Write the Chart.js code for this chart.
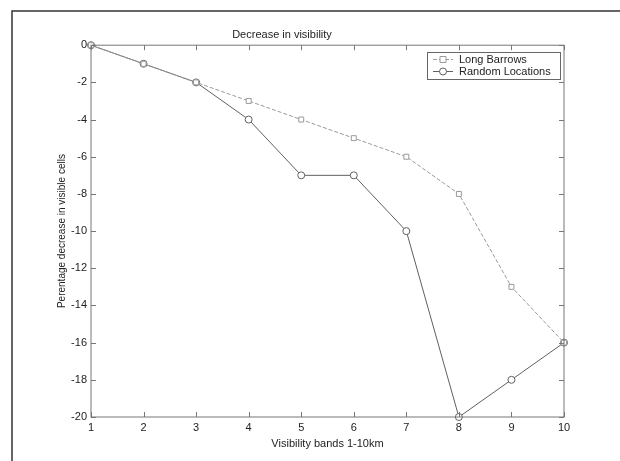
<!DOCTYPE html>
<html>
<head>
<meta charset="utf-8">
<script src="https://cdn.jsdelivr.net/npm/chart.js@4.4.0/dist/chart.umd.min.js"></script>
<style>
  html, body { margin: 0; padding: 0; background: #fff; }
  #wrap { width: 620px; height: 461px; }
</style>
</head>
<body>
<div id="wrap"><canvas id="linechart" width="620" height="461"></canvas></div>
<script>
// Data
const bands = [1, 2, 3, 4, 5, 6, 7, 8, 9, 10];
const longBarrows = [0, -1, -2, -3, -4, -5, -6, -8, -13, -16];
const randomLocations = [0, -1, -2, -4, -7, -7, -10, -20, -18, -16];
const yTicks = [0, -2, -4, -6, -8, -10, -12, -14, -16, -18, -20];

const FONT = 'Liberation Sans, Arial, sans-serif';

// pair the band numbers with each series
function toPoints(values){
    return bands.map((b, i) => ({x: b, y: values[i]}));
}

// MATLAB style box, inward ticks, outer frame and legend
const matlabBox = {
    id: 'matlabBox',
    beforeDraw(chart){
        const ctx = chart.ctx;
        ctx.save();
        ctx.strokeStyle = '#333';
        ctx.lineWidth = 1.5;
        ctx.beginPath();
        ctx.moveTo(12, 461);
        ctx.lineTo(12, 11);
        ctx.lineTo(620, 11);
        ctx.stroke();
        ctx.restore();
    },
    afterDraw(chart){
        const {ctx, chartArea: a, scales} = chart;
        ctx.save();
        ctx.strokeStyle = '#777';
        ctx.lineWidth = 1;
        ctx.strokeRect(a.left, a.top, a.right - a.left, a.bottom - a.top);
        const len = 5;
        ctx.beginPath();
        bands.forEach((b) => {
            const x = Math.round(scales.x.getPixelForValue(b)) + 0.5;
            ctx.moveTo(x, a.bottom); ctx.lineTo(x, a.bottom - len);
            ctx.moveTo(x, a.top); ctx.lineTo(x, a.top + len);
        });
        yTicks.forEach((v) => {
            const y = Math.round(scales.y.getPixelForValue(v)) + 0.5;
            ctx.moveTo(a.left, y); ctx.lineTo(a.left + len, y);
            ctx.moveTo(a.right, y); ctx.lineTo(a.right - len, y);
        });
        ctx.stroke();

        // legend box in the upper right corner
        const bx = 427, by = 52, bw = 133, bh = 27;
        ctx.fillStyle = '#fff';
        ctx.fillRect(bx, by, bw, bh);
        ctx.strokeStyle = '#666';
        ctx.strokeRect(bx + 0.5, by + 0.5, bw, bh);
        ctx.font = '11px ' + FONT;
        ctx.textBaseline = 'middle';
        chart.data.datasets.forEach((ds, i) => {
            const y = by + 7.5 + i * 12;
            ctx.strokeStyle = ds.borderColor;
            ctx.setLineDash(ds.borderDash || []);
            ctx.beginPath();
            ctx.moveTo(bx + 6, y); ctx.lineTo(bx + 26, y);
            ctx.stroke();
            ctx.setLineDash([]);
            ctx.fillStyle = '#fff';
            ctx.beginPath();
            if (ds.pointStyle === 'rect') {
                ctx.rect(bx + 13, y - 3, 6, 6);
            } else {
                ctx.arc(bx + 16, y, 3.5, 0, Math.PI * 2);
            }
            ctx.fill();
            ctx.stroke();
            ctx.fillStyle = '#222';
            ctx.fillText(ds.label, bx + 32, y);
        });
        ctx.restore();
    }
};

new Chart('linechart', {
    type: 'line',
    data: {
        datasets: [{
            label: 'Long Barrows',
            data: toPoints(longBarrows),
            borderColor: '#9a9a9a',
            borderWidth: 1,
            borderDash: [4, 2],
            pointStyle: 'rect',
            pointRadius: 3.5,
            pointBackgroundColor: '#fff',
            pointBorderColor: '#9a9a9a',
            fill: false,
            clip: false
        }, {
            label: 'Random Locations',
            data: toPoints(randomLocations),
            borderColor: '#606060',
            borderWidth: 1,
            pointStyle: 'circle',
            pointRadius: 3.5,
            pointBackgroundColor: '#fff',
            pointBorderColor: '#606060',
            fill: false,
            clip: false
        }]
    },
    options: {
        responsive: false,
        animation: false,
        layout: {padding: {left: 0, right: 56, top: 0, bottom: 0}},
        plugins: {
            legend: {display: false},
            tooltip: {enabled: false},
            title: {
                display: true,
                text: 'Decrease in visibility',
                color: '#222',
                font: {family: FONT, size: 11, weight: 'normal'},
                padding: {top: 28, bottom: 4}
            }
        },
        scales: {
            x: {
                type: 'linear',
                min: 1,
                max: 10,
                afterFit: (scale) => { scale.height = 44; },
                afterBuildTicks: (scale) => { scale.ticks = bands.map((v) => ({value: v})); },
                grid: {display: false, drawTicks: false},
                border: {display: false},
                ticks: {color: '#222', padding: 4, font: {family: FONT, size: 11}},
                title: {
                    display: true,
                    text: 'Visibility bands 1-10km',
                    color: '#222',
                    font: {family: FONT, size: 11},
                    padding: 10
                }
            },
            y: {
                type: 'linear',
                min: -20,
                max: 0,
                afterFit: (scale) => { scale.width = 91; },
                afterBuildTicks: (scale) => { scale.ticks = yTicks.map((v) => ({value: v})); },
                grid: {display: false, drawTicks: false},
                border: {display: false},
                ticks: {color: '#222', padding: 4, font: {family: FONT, size: 11}},
                title: {
                    display: true,
                    text: 'Perentage decrease in visible cells',
                    color: '#222',
                    font: {family: FONT, size: 10},
                    padding: 56
                }
            }
        }
    },
    plugins: [matlabBox]
});
</script>
</body>
</html>
